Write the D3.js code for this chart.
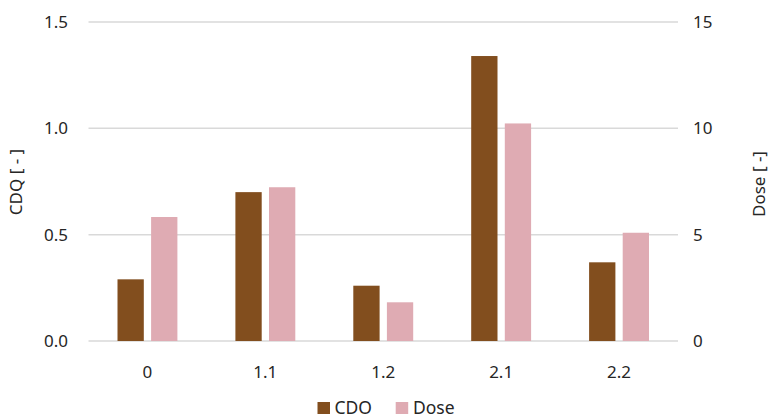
<!DOCTYPE html>
<html>
<head>
<meta charset="utf-8">
<script src="https://cdn.jsdelivr.net/npm/d3@7"></script>
<style>
  html, body { margin: 0; padding: 0; background: #fff; }
  svg { display: block; }
  text { font-family: "Noto Sans", "Open Sans", sans-serif; fill: #262626; }
</style>
</head>
<body>
<svg id="chart" width="772" height="419"></svg>
<script>
const categories = ["0", "1.1", "1.2", "2.1", "2.2"];
const cdoValues = [0.29, 0.70, 0.26, 1.34, 0.37];
const doseValues = [5.83, 7.23, 1.82, 10.23, 5.09];
const leftTicks = [0, 0.5, 1.0, 1.5];
const rightTicks = [0, 5, 10, 15];
const seriesNames = ["CDO", "Dose"];
const colors = ["#824e1e", "#dfabb3"];

const svg = d3.select("#chart");
const plotLeft = 88.5, plotRight = 678, plotTop = 22, plotBottom = 341;

const x = d3.scaleBand().domain(categories).range([plotLeft, plotRight]).paddingInner(0).paddingOuter(0);
const yL = d3.scaleLinear().domain([0, 1.5]).range([plotBottom, plotTop]);
const yR = d3.scaleLinear().domain([0, 15]).range([plotBottom, plotTop]);

// gridlines
svg.append("g").selectAll("line").data(leftTicks).join("line")
  .attr("x1", plotLeft).attr("x2", plotRight)
  .attr("y1", d => yL(d)).attr("y2", d => yL(d))
  .attr("stroke", "#d9d9d9").attr("stroke-width", 1.5);

// bars
const barW = 26.3, gap = 7.3;
const g = svg.append("g");
g.selectAll("rect.cdo").data(categories).join("rect")
  .attr("class", "cdo")
  .attr("x", (d) => x(d) + x.bandwidth() / 2 - gap / 2 - barW)
  .attr("width", barW)
  .attr("y", (d, i) => yL(cdoValues[i]))
  .attr("height", (d, i) => plotBottom - yL(cdoValues[i]))
  .attr("fill", colors[0]);
g.selectAll("rect.dose").data(categories).join("rect")
  .attr("class", "dose")
  .attr("x", (d) => x(d) + x.bandwidth() / 2 + gap / 2)
  .attr("width", barW)
  .attr("y", (d, i) => yR(doseValues[i]))
  .attr("height", (d, i) => plotBottom - yR(doseValues[i]))
  .attr("fill", colors[1]);

// left axis labels
const fmtL = d3.format(".1f");
svg.append("g").selectAll("text").data(leftTicks).join("text")
  .attr("x", 68).attr("y", d => yL(d)).attr("dy", "0.36em")
  .attr("text-anchor", "end").attr("font-size", 17)
  .text(d => fmtL(d));

// right axis labels
svg.append("g").selectAll("text").data(rightTicks).join("text")
  .attr("x", 693).attr("y", d => yR(d)).attr("dy", "0.36em")
  .attr("text-anchor", "start").attr("font-size", 17)
  .text(d => d);

// x labels
svg.append("g").selectAll("text").data(categories).join("text")
  .attr("x", d => x(d) + x.bandwidth() / 2).attr("y", 378)
  .attr("text-anchor", "middle").attr("font-size", 17)
  .text(d => d);

// axis titles
svg.append("text")
  .attr("transform", "translate(22,182) rotate(-90)")
  .attr("text-anchor", "middle").attr("font-size", 17)
  .text("CDQ [ - ]");
svg.append("text")
  .attr("transform", "translate(765,184) rotate(-90)")
  .attr("text-anchor", "middle").attr("font-size", 17)
  .text("Dose [ -]");

// legend
const legend = svg.append("g");
const legendItems = [{ x: 317.5, tx: 334.5 }, { x: 395.7, tx: 413 }];
seriesNames.forEach((name, i) => {
  legend.append("rect").attr("x", legendItems[i].x).attr("y", 402)
    .attr("width", 12.5).attr("height", 12).attr("fill", colors[i]);
  legend.append("text").attr("x", legendItems[i].tx).attr("y", 413.5)
    .attr("font-size", 17.5).text(name);
});
</script>
</body>
</html>
